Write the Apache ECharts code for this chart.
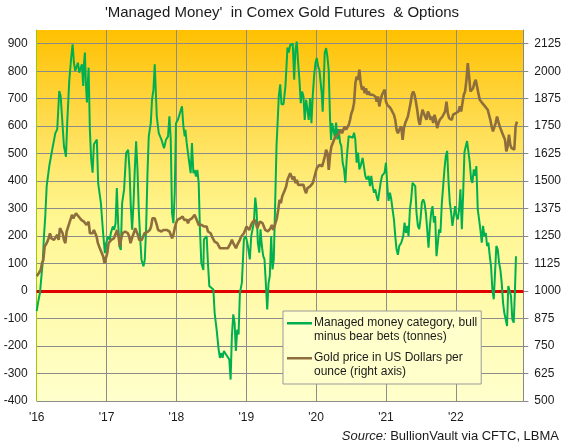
<!DOCTYPE html>
<html>
<head>
    <meta charset="utf-8">
    <title>Managed Money in Comex Gold Futures & Options</title>
    <script src="https://cdn.jsdelivr.net/npm/echarts@6/dist/echarts.min.js"></script>
    <style>
        html, body { margin: 0; padding: 0; background: #fff; }
        #main { width: 564px; height: 447px; }
    </style>
</head>
<body>
<div id="main"></div>
<script>
    // 数据：Managed money 净多头（吨），按周
    var mmYears = [
        2016.000, 2016.019, 2016.047, 2016.066, 2016.086, 2016.104, 2016.123, 2016.143, 2016.161, 2016.180, 2016.200, 2016.219, 2016.247, 2016.266, 2016.294, 2016.314, 2016.323, 2016.343, 2016.371, 2016.390, 2016.419, 2016.437, 2016.466, 2016.494, 2016.514, 2016.533, 2016.551, 2016.571, 2016.590, 2016.609, 2016.629, 2016.647, 2016.666, 2016.676, 2016.690, 2016.704, 2016.719, 2016.743, 2016.761, 2016.780, 2016.800, 2016.819, 2016.833, 2016.861, 2016.880, 2016.919, 2016.947, 2016.976, 2016.994,
        2017.023, 2017.047, 2017.061, 2017.090, 2017.109, 2017.129, 2017.147, 2017.166, 2017.186, 2017.204, 2017.223, 2017.251, 2017.280, 2017.309, 2017.329, 2017.347, 2017.366, 2017.386, 2017.404, 2017.423, 2017.443, 2017.461, 2017.480, 2017.500, 2017.529, 2017.547, 2017.566, 2017.586, 2017.604, 2017.633, 2017.651, 2017.671, 2017.690, 2017.719, 2017.747, 2017.786, 2017.823, 2017.851, 2017.880, 2017.900, 2017.919, 2017.937, 2017.957, 2017.976, 2017.994,
        2018.023, 2018.051, 2018.080, 2018.100, 2018.119, 2018.129, 2018.147, 2018.166, 2018.186, 2018.204, 2018.223, 2018.243, 2018.261, 2018.280, 2018.300, 2018.319, 2018.337, 2018.357, 2018.386, 2018.394, 2018.414, 2018.433, 2018.451, 2018.471, 2018.500, 2018.529, 2018.547, 2018.576, 2018.604, 2018.623, 2018.643, 2018.661, 2018.680, 2018.709, 2018.733, 2018.757, 2018.776, 2018.794, 2018.814, 2018.833, 2018.851, 2018.871, 2018.890, 2018.909, 2018.937, 2018.966, 2018.986,
        2019.004, 2019.023, 2019.051, 2019.071, 2019.090, 2019.109, 2019.129, 2019.147, 2019.166, 2019.186, 2019.204, 2019.223, 2019.243, 2019.261, 2019.280, 2019.300, 2019.319, 2019.337, 2019.357, 2019.376, 2019.394, 2019.414, 2019.433, 2019.451, 2019.466, 2019.486, 2019.504, 2019.533, 2019.561, 2019.590, 2019.609, 2019.629, 2019.666, 2019.686, 2019.704, 2019.723, 2019.743, 2019.761, 2019.780, 2019.800, 2019.819, 2019.837, 2019.857, 2019.876, 2019.894, 2019.914, 2019.933, 2019.951, 2019.971, 2019.990,
        2020.009, 2020.029, 2020.047, 2020.066, 2020.080, 2020.094, 2020.109, 2020.123, 2020.143, 2020.161, 2020.180, 2020.200, 2020.214, 2020.229, 2020.247, 2020.266, 2020.286, 2020.304, 2020.323, 2020.343, 2020.361, 2020.380, 2020.400, 2020.419, 2020.437, 2020.466, 2020.494, 2020.523, 2020.543, 2020.561, 2020.580, 2020.600, 2020.619, 2020.637, 2020.666, 2020.686, 2020.704, 2020.723, 2020.751, 2020.771, 2020.790, 2020.809, 2020.829, 2020.847, 2020.866, 2020.886, 2020.904, 2020.923, 2020.943, 2020.961, 2020.980,
        2021.000, 2021.019, 2021.037, 2021.057, 2021.076, 2021.094, 2021.114, 2021.133, 2021.151, 2021.171, 2021.190, 2021.219, 2021.247, 2021.266, 2021.286, 2021.304, 2021.323, 2021.343, 2021.361, 2021.380, 2021.400, 2021.419, 2021.437, 2021.457, 2021.476, 2021.494, 2021.514, 2021.533, 2021.551, 2021.571, 2021.590, 2021.609, 2021.629, 2021.647, 2021.666, 2021.686, 2021.704, 2021.723, 2021.743, 2021.761, 2021.780, 2021.800, 2021.819, 2021.837, 2021.857, 2021.876, 2021.894, 2021.914, 2021.933, 2021.951, 2021.971, 2021.990,
        2022.009, 2022.029, 2022.047, 2022.066, 2022.086, 2022.104, 2022.123, 2022.143, 2022.161, 2022.180, 2022.200, 2022.219, 2022.237, 2022.257, 2022.276, 2022.294, 2022.314, 2022.333, 2022.351, 2022.371, 2022.390, 2022.409, 2022.429, 2022.447, 2022.466, 2022.486, 2022.504, 2022.523, 2022.543, 2022.561, 2022.580, 2022.600, 2022.619, 2022.637, 2022.657, 2022.676, 2022.694, 2022.714, 2022.733, 2022.751, 2022.771, 2022.790, 2022.809, 2022.829, 2022.847, 2022.861
    ];
    var mmTonnes = [
        -73, -42, -6, 49, 103, 200, 273, 382, 388, 455, 461, 510, 513, 574, 589, 585, 728, 710, 710, 528, 489, 613, 765, 850, 898, 831, 801, 801, 831, 795, 795, 825, 746, 825, 868, 758, 686, 813, 589, 479, 431, 534, 539, 551, 393, 320, 223, 138, 174,
        199, 187, 211, 235, 223, 247, 375, 247, 162, 150, 320, 369, 502, 514, 441, 308, 223, 320, 441, 545, 441, 296, 199, 114, 90, 114, 223, 429, 563, 611, 696, 733, 825, 636, 575, 551, 520, 551, 563, 636, 551, 284, 247, 357, 611,
        624, 648, 672, 599, 563, 587, 539, 502, 496, 429, 539, 429, 441, 417, 441, 393, 223, 102, 77, 188, 194, 200, 103, 18, 12, 6, -79, -140, -212, -243, -225, -243, -218, -230, -225, -249, -322, -164, -85, -115, -218, -140, -158, -6, 30, 188, 200,
        188, 164, 115, 200, 206, 249, 340, 297, 176, 140, 225, 164, 127, 115, 30, -67, 30, 55, 200, 79, 115, 322, 528, 625, 710, 752, 680, 680, 746, 886, 868, 896, 900, 769, 878, 908, 830, 769, 684, 726, 708, 623, 696, 660, 623, 702, 611, 708, 781, 830,
        848, 817, 805, 805, 720, 653, 757, 866, 884, 854, 805, 623, 550, 611, 587, 562, 613, 552, 589, 540, 528, 467, 443, 394, 479, 564, 570, 558, 576, 552, 467, 504, 443, 455, 485, 492, 419, 406, 419, 382, 419, 382, 358, 370, 346, 328, 334, 394, 419, 419, 431,
        467, 382, 328, 358, 334, 297, 261, 200, 152, 132, 164, 176, 200, 249, 212, 237, 200, 297, 334, 394, 400, 382, 285, 237, 225, 261, 322, 334, 322, 285, 225, 158, 237, 285, 309, 249, 273, 127, 176, 225, 212, 322, 382, 443, 492, 510, 406, 322, 285, 237, 273, 309,
        273, 261, 297, 370, 225, 346, 504, 528, 546, 552, 467, 406, 394, 443, 419, 455, 297, 261, 225, 176, 237, 200, 212, 164, 176, 127, 91, 6, -30, -30, 164, 152, 103, 79, 30, -42, -79, -103, -127, 18, 12, -18, -103, -115, 6, 127
    ];

    // 金价（美元/盎司，右轴）
    var goldYears = [
        2016.000, 2016.029, 2016.057, 2016.076, 2016.095, 2016.114, 2016.143, 2016.171, 2016.190, 2016.210, 2016.229, 2016.248, 2016.267, 2016.295, 2016.314, 2016.333, 2016.352, 2016.371, 2016.390, 2016.410, 2016.429, 2016.448, 2016.467, 2016.486, 2016.505, 2016.524, 2016.543, 2016.562, 2016.581, 2016.600, 2016.619, 2016.638, 2016.657, 2016.676, 2016.695, 2016.714, 2016.743, 2016.762, 2016.781, 2016.800, 2016.819, 2016.838, 2016.857, 2016.876, 2016.895, 2016.914, 2016.933, 2016.952, 2016.971, 2016.990,
        2017.010, 2017.029, 2017.048, 2017.067, 2017.086, 2017.105, 2017.133, 2017.152, 2017.171, 2017.190, 2017.210, 2017.229, 2017.248, 2017.267, 2017.286, 2017.305, 2017.324, 2017.343, 2017.371, 2017.390, 2017.410, 2017.429, 2017.448, 2017.467, 2017.486, 2017.505, 2017.524, 2017.543, 2017.562, 2017.581, 2017.600, 2017.619, 2017.638, 2017.657, 2017.676, 2017.690, 2017.719, 2017.738, 2017.766, 2017.785, 2017.814, 2017.833, 2017.861, 2017.880, 2017.900, 2017.919, 2017.938, 2017.957, 2017.976, 2017.995,
        2018.014, 2018.033, 2018.052, 2018.071, 2018.090, 2018.109, 2018.128, 2018.147, 2018.166, 2018.185, 2018.204, 2018.223, 2018.242, 2018.261, 2018.280, 2018.300, 2018.319, 2018.338, 2018.357, 2018.376, 2018.395, 2018.414, 2018.433, 2018.452, 2018.471, 2018.490, 2018.509, 2018.528, 2018.547, 2018.566, 2018.585, 2018.604, 2018.623, 2018.642, 2018.661, 2018.680, 2018.700, 2018.719, 2018.738, 2018.757, 2018.776, 2018.795, 2018.814, 2018.833, 2018.852, 2018.871, 2018.890, 2018.909, 2018.928, 2018.947, 2018.966, 2018.985,
        2019.004, 2019.023, 2019.042, 2019.061, 2019.080, 2019.100, 2019.119, 2019.138, 2019.157, 2019.176, 2019.195, 2019.214, 2019.233, 2019.252, 2019.271, 2019.290, 2019.309, 2019.328, 2019.347, 2019.366, 2019.385, 2019.404, 2019.438, 2019.457, 2019.476, 2019.495, 2019.514, 2019.533, 2019.552, 2019.571, 2019.590, 2019.609, 2019.629, 2019.648, 2019.667, 2019.686, 2019.705, 2019.724, 2019.743, 2019.762, 2019.781, 2019.800, 2019.819, 2019.838, 2019.857, 2019.876, 2019.895, 2019.914, 2019.933, 2019.952, 2019.971, 2019.990,
        2020.010, 2020.029, 2020.048, 2020.067, 2020.086, 2020.105, 2020.124, 2020.143, 2020.162, 2020.181, 2020.200, 2020.219, 2020.238, 2020.257, 2020.276, 2020.295, 2020.314, 2020.333, 2020.352, 2020.371, 2020.390, 2020.410, 2020.429, 2020.448, 2020.467, 2020.486, 2020.505, 2020.524, 2020.543, 2020.562, 2020.581, 2020.600, 2020.619, 2020.638, 2020.657, 2020.676, 2020.695, 2020.714, 2020.733, 2020.752, 2020.771, 2020.790, 2020.810, 2020.829, 2020.848, 2020.867, 2020.886, 2020.905, 2020.924, 2020.943, 2020.962, 2020.981,
        2021.000, 2021.019, 2021.038, 2021.057, 2021.076, 2021.095, 2021.114, 2021.133, 2021.152, 2021.171, 2021.190, 2021.219, 2021.238, 2021.257, 2021.276, 2021.295, 2021.314, 2021.333, 2021.352, 2021.371, 2021.390, 2021.409, 2021.428, 2021.447, 2021.466, 2021.485, 2021.504, 2021.523, 2021.542, 2021.561, 2021.580, 2021.600, 2021.619, 2021.638, 2021.657, 2021.676, 2021.695, 2021.714, 2021.733, 2021.752, 2021.771, 2021.790, 2021.809, 2021.828, 2021.847, 2021.866, 2021.885, 2021.904, 2021.923, 2021.942, 2021.961, 2021.980,
        2022.000, 2022.019, 2022.038, 2022.057, 2022.076, 2022.095, 2022.114, 2022.133, 2022.152, 2022.171, 2022.190, 2022.209, 2022.228, 2022.247, 2022.266, 2022.285, 2022.304, 2022.323, 2022.342, 2022.361, 2022.380, 2022.399, 2022.418, 2022.437, 2022.456, 2022.475, 2022.494, 2022.513, 2022.532, 2022.551, 2022.570, 2022.590, 2022.609, 2022.628, 2022.647, 2022.666, 2022.685, 2022.704, 2022.723, 2022.742, 2022.761, 2022.780, 2022.799, 2022.818, 2022.837, 2022.856, 2022.875
    ];
    var goldUsd = [
        1068, 1081, 1096, 1127, 1142, 1202, 1218, 1240, 1263, 1240, 1248, 1233, 1235, 1256, 1233, 1286, 1278, 1263, 1233, 1218, 1271, 1278, 1309, 1316, 1347, 1331, 1324, 1354, 1362, 1339, 1339, 1324, 1328, 1316, 1324, 1301, 1316, 1263, 1256, 1263, 1278, 1278, 1248, 1218, 1202, 1187, 1180, 1157, 1127, 1134,
        1172, 1218, 1225, 1233, 1233, 1240, 1248, 1278, 1248, 1202, 1240, 1263, 1263, 1271, 1278, 1263, 1248, 1218, 1248, 1263, 1286, 1271, 1256, 1233, 1225, 1233, 1240, 1263, 1256, 1268, 1271, 1278, 1294, 1331, 1339, 1331, 1301, 1278, 1286, 1271, 1278, 1271, 1278, 1286, 1271, 1256, 1240, 1256, 1286, 1309,
        1324, 1316, 1331, 1324, 1339, 1324, 1331, 1324, 1309, 1324, 1316, 1331, 1339, 1347, 1339, 1316, 1301, 1294, 1301, 1294, 1294, 1301, 1294, 1271, 1278, 1263, 1248, 1240, 1225, 1233, 1218, 1210, 1195, 1202, 1195, 1187, 1195, 1199, 1195, 1187, 1218, 1233, 1218, 1225, 1195, 1210, 1218, 1233, 1248, 1240, 1263, 1278,
        1294, 1286, 1278, 1294, 1309, 1316, 1324, 1309, 1286, 1294, 1316, 1309, 1309, 1294, 1278, 1286, 1271, 1278, 1286, 1301, 1278, 1294, 1331, 1369, 1415, 1400, 1430, 1445, 1460, 1476, 1506, 1521, 1536, 1521, 1506, 1521, 1491, 1506, 1483, 1491, 1483, 1476, 1483, 1460, 1445, 1468, 1460, 1476, 1468, 1491, 1513, 1536,
        1559, 1567, 1574, 1582, 1567, 1589, 1612, 1643, 1627, 1551, 1620, 1658, 1665, 1688, 1703, 1696, 1711, 1718, 1734, 1718, 1734, 1749, 1734, 1741, 1756, 1779, 1809, 1825, 1855, 1946, 1976, 1961, 2007, 1946, 1916, 1931, 1900, 1923, 1893, 1908, 1893, 1900, 1893, 1900, 1885, 1862, 1885, 1840, 1870, 1893, 1900, 1916,
        1862, 1847, 1840, 1835, 1825, 1830, 1802, 1779, 1734, 1718, 1734, 1749, 1688, 1741, 1764, 1779, 1794, 1825, 1855, 1893, 1908, 1893, 1862, 1825, 1779, 1756, 1794, 1825, 1809, 1817, 1779, 1817, 1802, 1779, 1794, 1764, 1802, 1779, 1741, 1764, 1779, 1787, 1794, 1802, 1817, 1862, 1809, 1787, 1794, 1779, 1802, 1794,
        1809, 1809, 1817, 1840, 1817, 1855, 1893, 1908, 1961, 2037, 1976, 1908, 1916, 1923, 1946, 1961, 1953, 1900, 1870, 1878, 1855, 1862, 1840, 1847, 1825, 1802, 1779, 1749, 1726, 1718, 1764, 1794, 1771, 1749, 1734, 1718, 1703, 1688, 1635, 1658, 1711, 1665, 1650, 1658, 1643, 1749, 1771
    ];

    var seriesNames = [
        'Managed money category, bull minus bear bets (tonnes)',
        'Gold price in US Dollars per ounce (right axis)'
    ];
    var legendLabels = [
        'Managed money category, bull\nminus bear bets (tonnes)',
        'Gold price in US Dollars per\nounce (right axis)'
    ];

    var FONT = '"Liberation Sans", Arial, sans-serif';
    var myChart = echarts.init(document.getElementById('main'), null, {renderer: 'canvas'});

    var mmData = mmYears.map(function (t, i) { return [t, mmTonnes[i]]; });
    var goldData = goldYears.map(function (t, i) { return [t, goldUsd[i]]; });

    var option = {
        backgroundColor: '#ffffff',
        animation: false,
        textStyle: {fontFamily: FONT},
        title: [{
            text: "'Managed Money'  in Comex Gold Futures  & Options",
            left: 'center',
            top: 0,
            textStyle: {fontFamily: FONT, fontSize: 15, fontWeight: 'normal', color: '#1a1a1a'}
        }, {
            text: '{i|Source:} BullionVault via CFTC, LBMA',
            right: 5,
            top: 430,
            padding: 0,
            textStyle: {
                fontFamily: FONT, fontSize: 13, fontWeight: 'normal', color: '#1a1a1a',
                rich: {i: {fontFamily: FONT, fontSize: 13, fontStyle: 'italic', color: '#1a1a1a'}}
            }
        }],
        grid: {
            left: 36.7, right: 39.7, top: 30, bottom: 46,
            show: true,
            borderWidth: 0,
            backgroundColor: new echarts.graphic.LinearGradient(0, 0, 0, 1, [
                {offset: 0, color: '#FFC000'},
                {offset: 0.25, color: '#FFDC50'},
                {offset: 0.5, color: '#FFF690'},
                {offset: 1, color: '#FFFFCC'}
            ])
        },
        legend: {
            orient: 'vertical',
            left: 283,
            top: 311,
            padding: [5, 4, 5, 4],
            itemGap: 7,
            itemWidth: 25,
            itemHeight: 28,
            symbolKeepAspect: false,
            icon: 'path://M0,0H0.01V0.01H0Z M0,6H26V8.6H0Z M0,27.99H0.01V28H0Z',
            backgroundColor: '#FFFFCC',
            borderColor: '#999999',
            borderWidth: 1,
            borderRadius: 0,
            selectedMode: false,
            textStyle: {fontFamily: FONT, fontSize: 12, lineHeight: 14, color: '#1a1a1a', padding: [0, 0, 0, -3]},
            formatter: function (name) { return legendLabels[seriesNames.indexOf(name)]; },
            data: seriesNames
        },
        xAxis: {
            type: 'value',
            min: 2016,
            max: 2022.966,
            interval: 1,
            axisLine: {show: true, lineStyle: {color: '#888888', width: 1}},
            axisTick: {show: false},
            splitLine: {show: true, lineStyle: {color: '#8c8c8c', width: 1}},
            axisLabel: {
                color: '#1a1a1a', fontSize: 12, fontFamily: FONT, margin: 11,
                showMaxLabel: false,
                formatter: function (v) { return "'" + String(Math.round(v)).slice(2); }
            }
        },
        yAxis: [{
            type: 'value',
            position: 'left',
            min: -400,
            max: 950,
            interval: 100,
            axisLine: {show: true, lineStyle: {color: '#99CC00', width: 1}},
            axisTick: {show: false},
            splitLine: {show: true, showMaxLine: false, lineStyle: {color: '#8c8c8c', width: 1}},
            axisLabel: {color: '#1a1a1a', fontSize: 12, fontFamily: FONT, margin: 9, showMaxLabel: false}
        }, {
            type: 'value',
            position: 'right',
            min: 500,
            max: 2187.5,
            interval: 125,
            axisLine: {show: true, lineStyle: {color: '#888888', width: 1}},
            axisTick: {show: true, length: 5, lineStyle: {color: '#888888'}},
            splitLine: {show: false},
            axisLabel: {
                color: '#1a1a1a', fontSize: 12, fontFamily: FONT, margin: 11, showMaxLabel: false,
                formatter: function (v) { return String(v); }
            }
        }],
        series: [{
            name: seriesNames[0],
            type: 'line',
            yAxisIndex: 0,
            z: 3,
            showSymbol: false,
            symbol: 'none',
            color: '#00B050',
            lineStyle: {color: '#00B050', width: 2},
            data: mmData,
            markLine: {
                silent: true,
                z: 2,
                symbol: 'none',
                label: {show: false},
                lineStyle: {color: '#E00000', width: 3, type: 'solid'},
                data: [{yAxis: 0}]
            }
        }, {
            name: seriesNames[1],
            type: 'line',
            yAxisIndex: 1,
            z: 4,
            showSymbol: false,
            symbol: 'none',
            color: '#8E6E3C',
            lineStyle: {color: '#8E6E3C', width: 2.6},
            data: goldData
        }]
    };

    myChart.setOption(option);
</script>
</body>
</html>
